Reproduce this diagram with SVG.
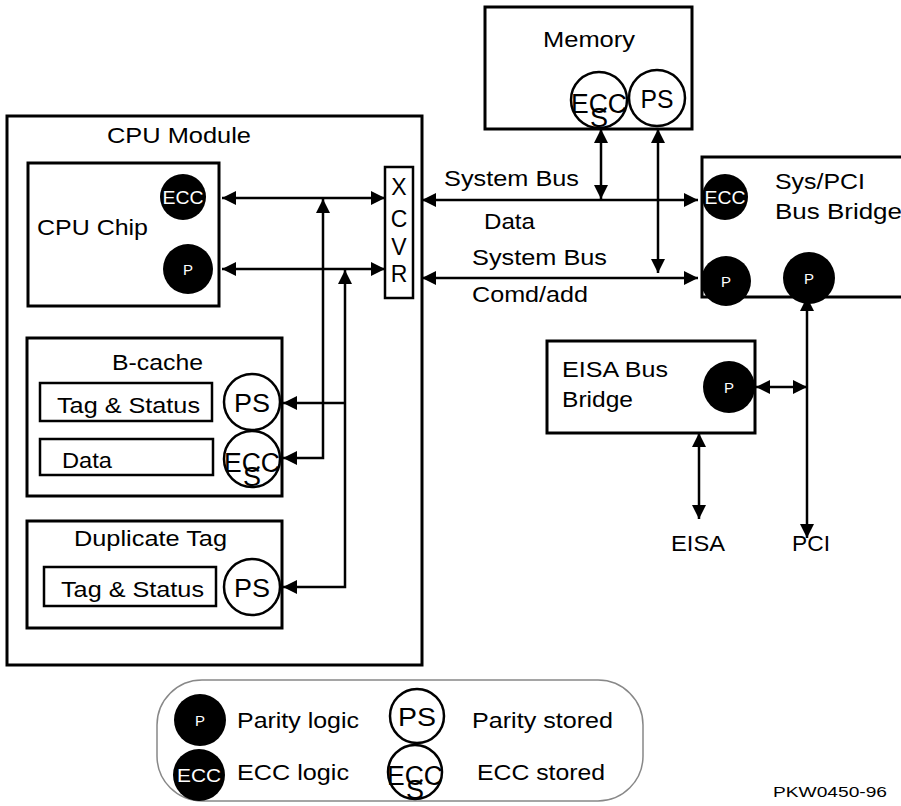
<svg xmlns="http://www.w3.org/2000/svg" width="901" height="806" viewBox="0 0 901 806">
<style>
.box{fill:none;stroke:#000;stroke-width:3}
.ibox{fill:none;stroke:#000;stroke-width:2.5}
.st{fill:#fff;stroke:#000;stroke-width:2.5}
.lg{fill:#000}
text{font-family:"Liberation Sans",Arial,sans-serif;fill:#000}
.t{font-size:22px}
.w{fill:#fff;text-anchor:middle}
.c{text-anchor:middle}
.ecs{font-size:27px;text-anchor:middle}
.ln{fill:none;stroke:#000;stroke-width:2.5;marker-end:url(#ah)}
.dbl{marker-start:url(#ah)}
</style>
<defs>
<marker id="ah" viewBox="0 0 14 14" refX="14" refY="7" markerWidth="14" markerHeight="14" markerUnits="userSpaceOnUse" orient="auto-start-reverse">
<path d="M0,0 L14,7 L0,14 z" fill="#000"/>
</marker>
</defs>

<g id="memory">
<rect class="box" x="485" y="7" width="207" height="122"/>
<text class="t" x="543" y="47" textLength="92" lengthAdjust="spacingAndGlyphs">Memory</text>
<circle class="st" cx="599" cy="100" r="28"/>
<text class="ecs"><tspan x="599" y="113" textLength="56" lengthAdjust="spacingAndGlyphs">ECC</tspan><tspan x="599" y="127">S</tspan></text>
<circle class="st" cx="657" cy="98" r="28"/>
<text class="c" x="657" y="108" font-size="25" textLength="33" lengthAdjust="spacingAndGlyphs">PS</text>
</g>

<g id="cpu-module">
<rect class="box" x="7" y="116" width="415" height="549"/>
<text class="t" x="107" y="143" textLength="144" lengthAdjust="spacingAndGlyphs">CPU Module</text>
</g>

<g id="cpu-chip">
<rect class="box" x="28" y="163" width="191" height="143"/>
<text class="t" x="37" y="235" textLength="111" lengthAdjust="spacingAndGlyphs">CPU Chip</text>
<circle class="lg" cx="183" cy="197" r="23"/>
<text class="w" x="183" y="204" font-size="18" textLength="41" lengthAdjust="spacingAndGlyphs">ECC</text>
<circle class="lg" cx="188" cy="269" r="25"/>
<text class="w" x="188" y="275" font-size="15">P</text>
</g>

<g id="xcvr">
<rect class="ibox" x="385" y="167" width="28" height="131"/>
<text class="c" x="399" y="195" font-size="23">X</text>
<text class="c" x="399" y="227" font-size="23">C</text>
<text class="c" x="399" y="255" font-size="23">V</text>
<text class="c" x="399" y="282" font-size="23">R</text>
</g>

<g id="b-cache">
<rect class="box" x="27" y="338" width="255" height="158"/>
<text class="t" x="112" y="370" textLength="91" lengthAdjust="spacingAndGlyphs">B-cache</text>
<rect class="ibox" x="40" y="383" width="172" height="38"/>
<text class="t" x="57" y="413" textLength="143" lengthAdjust="spacingAndGlyphs">Tag &amp; Status</text>
<circle class="st" cx="252" cy="402" r="28"/>
<text class="c" x="252" y="412" font-size="25" textLength="36" lengthAdjust="spacingAndGlyphs">PS</text>
<rect class="ibox" x="40" y="439" width="173" height="36"/>
<text class="t" x="62" y="468" textLength="50" lengthAdjust="spacingAndGlyphs">Data</text>
<circle class="st" cx="252" cy="459" r="28"/>
<text class="ecs"><tspan x="252" y="472" textLength="56" lengthAdjust="spacingAndGlyphs">ECC</tspan><tspan x="252" y="486">S</tspan></text>
</g>

<g id="duplicate-tag">
<rect class="box" x="27" y="521" width="255" height="107"/>
<text class="t" x="74" y="546" textLength="153" lengthAdjust="spacingAndGlyphs">Duplicate Tag</text>
<rect class="ibox" x="44" y="567" width="172" height="39"/>
<text class="t" x="61" y="597" textLength="143" lengthAdjust="spacingAndGlyphs">Tag &amp; Status</text>
<circle class="st" cx="252" cy="587" r="28"/>
<text class="c" x="252" y="597" font-size="25" textLength="36" lengthAdjust="spacingAndGlyphs">PS</text>
</g>

<g id="sys-pci-bridge">
<rect class="box" x="702" y="157" width="215" height="140"/>
<text class="t" x="775" y="189" textLength="90" lengthAdjust="spacingAndGlyphs">Sys/PCI</text>
<text class="t" x="775" y="219" textLength="127" lengthAdjust="spacingAndGlyphs">Bus Bridge</text>
<circle class="lg" cx="725" cy="197" r="23"/>
<text class="w" x="725" y="204" font-size="18" textLength="41" lengthAdjust="spacingAndGlyphs">ECC</text>
<circle class="lg" cx="726" cy="281" r="25"/>
<text class="w" x="726" y="287" font-size="15">P</text>
<circle class="lg" cx="809" cy="278" r="26"/>
<text class="w" x="809" y="284" font-size="15">P</text>
</g>

<g id="eisa-bridge">
<rect class="box" x="547" y="341" width="208" height="92"/>
<text class="t" x="562" y="377" textLength="106" lengthAdjust="spacingAndGlyphs">EISA Bus</text>
<text class="t" x="562" y="407" textLength="71" lengthAdjust="spacingAndGlyphs">Bridge</text>
<circle class="lg" cx="729" cy="387" r="26"/>
<text class="w" x="729" y="393" font-size="15">P</text>
</g>

<g id="connectors">
<line class="ln dbl" x1="222" y1="198" x2="385" y2="198"/>
<line class="ln dbl" x1="222" y1="269" x2="385" y2="269"/>
<path class="ln dbl" d="M323,199 L323,458 L283,458"/>
<path class="ln dbl" d="M345,270 L345,587 L283,587"/>
<path class="ln" d="M345,403 L283,403"/>
<line class="ln dbl" x1="422" y1="200" x2="698" y2="200"/>
<line class="ln dbl" x1="422" y1="278" x2="698" y2="278"/>
<line class="ln dbl" x1="601" y1="129" x2="601" y2="199"/>
<line class="ln dbl" x1="658" y1="129" x2="658" y2="273"/>
<line class="ln dbl" x1="807" y1="297" x2="807" y2="538"/>
<line class="ln dbl" x1="756" y1="387" x2="807" y2="387"/>
<line class="ln dbl" x1="699" y1="433" x2="699" y2="519"/>
</g>

<g id="bus-labels">
<text class="t" x="444" y="186" textLength="135" lengthAdjust="spacingAndGlyphs">System Bus</text>
<text class="t" x="484" y="229" textLength="51" lengthAdjust="spacingAndGlyphs">Data</text>
<text class="t" x="472" y="265" textLength="135" lengthAdjust="spacingAndGlyphs">System Bus</text>
<text class="t" x="472" y="302" textLength="116" lengthAdjust="spacingAndGlyphs">Comd/add</text>
<text class="t" x="671" y="551" textLength="54" lengthAdjust="spacingAndGlyphs">EISA</text>
<text class="t" x="792" y="551" textLength="38" lengthAdjust="spacingAndGlyphs">PCI</text>
</g>

<g id="legend">
<rect x="157" y="680" width="486" height="121" rx="45" ry="45" fill="none" stroke="#888" stroke-width="1.5"/>
<circle class="lg" cx="200" cy="720" r="26"/>
<text class="w" x="200" y="726" font-size="15">P</text>
<text class="t" x="237" y="728" textLength="122" lengthAdjust="spacingAndGlyphs">Parity logic</text>
<circle class="lg" cx="199" cy="775" r="26"/>
<text class="w" x="199" y="782" font-size="18" textLength="44" lengthAdjust="spacingAndGlyphs">ECC</text>
<text class="t" x="237" y="780" textLength="112" lengthAdjust="spacingAndGlyphs">ECC logic</text>
<circle class="st" cx="417" cy="716" r="27"/>
<text class="c" x="417" y="726" font-size="25" textLength="38" lengthAdjust="spacingAndGlyphs">PS</text>
<text class="t" x="472" y="728" textLength="141" lengthAdjust="spacingAndGlyphs">Parity stored</text>
<circle class="st" cx="415" cy="772" r="27"/>
<text class="ecs"><tspan x="415" y="785" textLength="56" lengthAdjust="spacingAndGlyphs">ECC</tspan><tspan x="415" y="799">S</tspan></text>
<text class="t" x="477" y="780" textLength="128" lengthAdjust="spacingAndGlyphs">ECC stored</text>
</g>

<text x="773" y="797" font-size="15" textLength="114" lengthAdjust="spacingAndGlyphs">PKW0450-96</text>
</svg>
